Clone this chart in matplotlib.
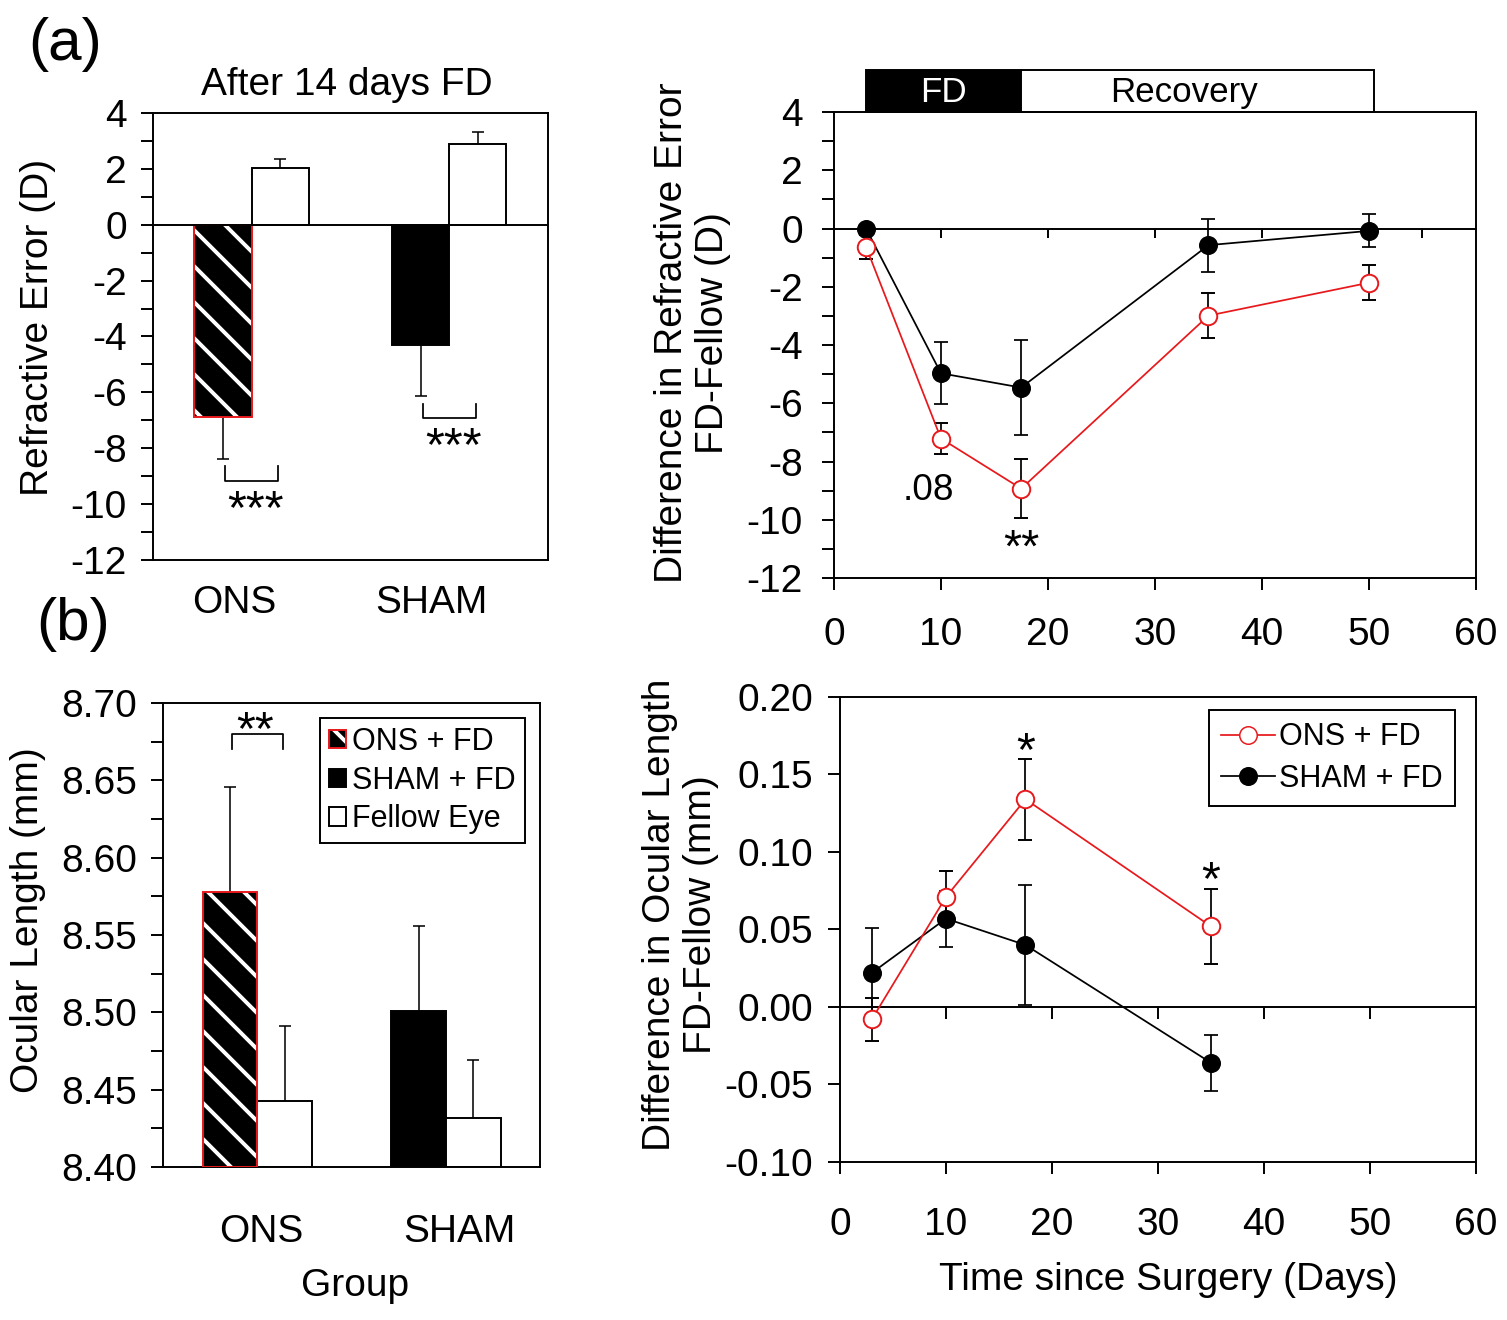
import numpy as np
import matplotlib
matplotlib.use("Agg")
import matplotlib.pyplot as plt
import matplotlib.transforms as mtransforms
from matplotlib.patches import Patch, Rectangle
from matplotlib.lines import Line2D
from matplotlib.ticker import MultipleLocator, FormatStrFormatter

# render at a lower dpi so the hatch stripes come out as dense as in the original
DPI = 108
K = 140 / DPI   # sizes below are written for 140 dpi and rescaled

plt.rcParams['font.family'] = ['Liberation Sans', 'DejaVu Sans']
plt.rcParams['axes.unicode_minus'] = False
plt.rcParams['hatch.color'] = 'white'
plt.rcParams['hatch.linewidth'] = 2.6

RED = '#e8191c'

# ---- data ----
groups = ['ONS', 'SHAM']
# (a) left: refractive error after 14 days FD
re_fd = [-6.88, -4.30]
re_fd_err = [1.50, 1.83]
re_fellow = [2.04, 2.90]
re_fellow_err = [0.30, 0.43]

# (b) left: ocular length
ol_fd = [8.578, 8.501]
ol_fd_err = [0.068, 0.055]
ol_fellow = [8.443, 8.432]
ol_fellow_err = [0.048, 0.037]

# (a) right: refractive error difference over time
days = [3, 10, 17.5, 35, 50]
re_ons = [-0.63, -7.21, -8.93, -2.99, -1.86]
re_ons_err = [0.40, 0.54, 1.02, 0.77, 0.60]
re_sham = [0.0, -4.97, -5.46, -0.57, -0.08]
re_sham_err = [0.10, 1.07, 1.62, 0.91, 0.57]

# (b) right: ocular length difference over time
days_ol = [3, 10, 17.5, 35]
ol_ons = [-0.008, 0.071, 0.134, 0.052]
ol_ons_err = [0.014, 0.017, 0.026, 0.024]
ol_sham = [0.022, 0.057, 0.040, -0.036]
ol_sham_err = [0.029, 0.018, 0.039, 0.018]

phase_names = ['FD', 'Recovery']
phase_bounds = [3, 17.5, 50.5]

fig = plt.figure(figsize=(1507 / DPI, 1320 / DPI), dpi=DPI)


def style(ax):
    for s in ax.spines.values():
        s.set_linewidth(1.0 * K)
    ax.tick_params(which='both', direction='out', length=6 * K, width=1 * K,
                   labelsize=20 * K)


def zero_axis(ax, ypos, ticks, tlen):
    # zero line with downward ticks, like the original sigmaplot style
    sec = ax.secondary_xaxis(ypos)
    sec.set_alignment('bottom')
    sec.set_xticks(ticks)
    sec.tick_params(direction='out', length=tlen * K, width=1 * K, labelbottom=False)
    sec.spines['bottom'].set_linewidth(1.0 * K)
    return sec


def bracket(ax, x0, x1, ytip, ybase):
    ax.plot([x0, x0, x1, x1], [ytip, ybase, ybase, ytip], color='black', lw=0.9 * K)


eb_bar = dict(fmt='none', ecolor='black', elinewidth=0.8 * K, capsize=3.2 * K,
              capthick=0.8 * K, zorder=1)

x = np.arange(1, len(groups) + 1)
w = 0.29

# ---------------- (a) left ----------------
ax1 = fig.add_axes([0.1015, 0.5758, 0.2621, 0.3386])
style(ax1)
ax1.errorbar(x - w / 2, re_fd, yerr=re_fd_err, **eb_bar)
ax1.errorbar(x + w / 2, re_fellow, yerr=re_fellow_err, **eb_bar)
ax1.bar(x[0] - w / 2, re_fd[0], w, color='black', edgecolor='white', hatch='\\',
        linewidth=0, zorder=2)
ax1.bar(x[0] - w / 2, re_fd[0], w, fill=False, edgecolor=RED, linewidth=1 * K, zorder=3)
ax1.bar(x[1] - w / 2, re_fd[1], w, color='black', edgecolor='black', linewidth=1 * K, zorder=2)
ax1.bar(x + w / 2, re_fellow, w, color='white', edgecolor='black', linewidth=1 * K, zorder=2)
ax1.axhline(0, color='black', lw=1 * K, zorder=4)
ax1.set_xlim(0.5, 2.5)
ax1.set_ylim(-12, 4)
ax1.set_yticks(np.arange(-12, 5, 2))
ax1.yaxis.set_minor_locator(MultipleLocator(1))
ax1.set_xticks(x - 0.09, groups)
ax1.tick_params(axis='x', length=0, pad=13 * K)
ax1.tick_params(axis='y', pad=7.5 * K)
ax1.set_title('After 14 days FD', fontsize=20 * K, pad=9 * K, x=0.49)
ax1.set_ylabel('Refractive Error (D)', fontsize=20 * K)
ax1.yaxis.set_label_coords(-0.245, 0.52)
for i in range(len(groups)):
    ytip = re_fd[i] - re_fd_err[i] - 0.27
    ybase = ytip - 0.53
    bracket(ax1, x[i] - w / 2 + 0.01, x[i] + w / 2 - 0.01, ytip, ybase)
    ax1.text(x[i] + 0.02, ybase - 1.5, '***', ha='center', va='baseline', fontsize=25 * K)

# ---------------- (a) right ----------------
ax2 = fig.add_axes([0.5534, 0.5621, 0.4260, 0.3530])
style(ax2)
line_kw = dict(lw=0.9 * K, marker='o', ms=9 * K, ecolor='black', elinewidth=0.9 * K,
               capsize=3.5 * K, capthick=0.9 * K)
ax2.errorbar(days, re_sham, yerr=re_sham_err, color='black', mfc='black', mec='black',
             zorder=3, **line_kw)
ax2.errorbar(days, re_ons, yerr=re_ons_err, color=RED, mfc='white', mec=RED,
             mew=1.0 * K, zorder=4, **line_kw)
ax2.set_xlim(0, 60)
ax2.set_ylim(-12, 4)
ax2.set_xticks(np.arange(0, 61, 10))
ax2.set_yticks(np.arange(-12, 5, 2))
ax2.yaxis.set_minor_locator(MultipleLocator(1))
ax2.tick_params(axis='x', pad=14 * K)
ax2.tick_params(axis='y', pad=10 * K)
zero_axis(ax2, 12 / 16, [10, 20, 30, 40, 50, 55], 4.5)
ax2.set_ylabel('Difference in Refractive Error\nFD-Fellow (D)', fontsize=20 * K)
ax2.yaxis.set_label_coords(-0.160, 0.526)
ax2.text(8.8, -9.0, '.08', ha='center', va='center', fontsize=19 * K)
ax2.text(17.5, -11.45, '**', ha='center', va='baseline', fontsize=24 * K)

trans = mtransforms.blended_transform_factory(ax2.transData, ax2.transAxes)
cols = ['black', 'white']
tcols = ['white', 'black']
text_frac = [0.5, 0.46]
for k, name in enumerate(phase_names):
    x0, x1 = phase_bounds[k], phase_bounds[k + 1]
    ax2.add_patch(Rectangle((x0, 1.0), x1 - x0, 0.09, transform=trans, facecolor=cols[k],
                            edgecolor='black', lw=1 * K, clip_on=False))
    ax2.text(x0 + (x1 - x0) * text_frac[k], 1.042, name, transform=trans, ha='center',
             va='center', color=tcols[k], fontsize=18 * K)

# ---------------- (b) left ----------------
ax3 = fig.add_axes([0.1082, 0.1159, 0.2502, 0.3515])
style(ax3)
ax3.errorbar(x - w / 2, ol_fd, yerr=ol_fd_err, **eb_bar)
ax3.errorbar(x + w / 2, ol_fellow, yerr=ol_fellow_err, **eb_bar)
base = 8.40
ax3.bar(x[0] - w / 2, ol_fd[0] - base, w, bottom=base, color='black', edgecolor='white',
        hatch='\\', linewidth=0, zorder=2)
ax3.bar(x[0] - w / 2, ol_fd[0] - base, w, bottom=base, fill=False, edgecolor=RED,
        linewidth=1 * K, zorder=3)
ax3.bar(x[1] - w / 2, ol_fd[1] - base, w, bottom=base, color='black', edgecolor='black',
        linewidth=1 * K, zorder=2)
ax3.bar(x + w / 2, np.array(ol_fellow) - base, w, bottom=base, color='white',
        edgecolor='black', linewidth=1 * K, zorder=2)
ax3.set_xlim(0.5, 2.5)
ax3.set_ylim(8.40, 8.70)
ax3.set_yticks(np.arange(8.40, 8.701, 0.05))
ax3.yaxis.set_major_formatter(FormatStrFormatter('%.2f'))
ax3.yaxis.set_minor_locator(MultipleLocator(0.025))
ax3.set_xticks(x + np.array([0.02, 0.07]), groups)
ax3.tick_params(axis='x', length=0, pad=24 * K)
ax3.tick_params(axis='y', pad=7.5 * K)
ax3.set_ylabel('Ocular Length (mm)', fontsize=20 * K)
ax3.yaxis.set_label_coords(-0.31, 0.532)
ax3.set_xlabel('Group', fontsize=20 * K)
ax3.xaxis.set_label_coords(0.509, -0.218)
bracket(ax3, x[0] - w / 2 + 0.01, x[0] + w / 2 - 0.01, 8.6706, 8.680)
ax3.text(x[0] - 0.01, 8.6737, '**', ha='center', va='baseline', fontsize=25 * K)

h_ons = (Patch(facecolor='black', edgecolor='white', hatch='\\', lw=0),
         Patch(fill=False, edgecolor=RED, lw=1 * K))
h_sham = Patch(facecolor='black', edgecolor='black', lw=1 * K)
h_fel = Patch(facecolor='white', edgecolor='black', lw=1 * K)
leg3 = ax3.legend([h_ons, h_sham, h_fel], ['ONS + FD', 'SHAM + FD', 'Fellow Eye'],
                  loc='upper right', bbox_to_anchor=(0.96, 0.968), fontsize=15.7 * K,
                  frameon=True, fancybox=False, edgecolor='black', framealpha=1,
                  handlelength=0.55, handleheight=0.55, handletextpad=0.2,
                  labelspacing=0.28, borderpad=0.3, borderaxespad=0)
leg3.get_frame().set_linewidth(1.0 * K)

# ---------------- (b) right ----------------
ax4 = fig.add_axes([0.5574, 0.1197, 0.4220, 0.3523])
style(ax4)
ax4.errorbar(days_ol, ol_sham, yerr=ol_sham_err, color='black', mfc='black', mec='black',
             zorder=3, **line_kw)
ax4.errorbar(days_ol, ol_ons, yerr=ol_ons_err, color=RED, mfc='white', mec=RED,
             mew=1.0 * K, zorder=4, **line_kw)
ax4.set_xlim(0, 60)
ax4.set_ylim(-0.10, 0.20)
ax4.set_xticks(np.arange(0, 61, 10))
ax4.set_yticks(np.arange(-0.10, 0.201, 0.05))
ax4.yaxis.set_major_formatter(FormatStrFormatter('%.2f'))
ax4.tick_params(axis='x', pad=17 * K)
ax4.tick_params(axis='y', pad=8 * K)
zero_axis(ax4, 0.10 / 0.30, [10, 20, 30, 40, 50], 6)
ax4.set_ylabel('Difference in Ocular Length\nFD-Fellow (mm)', fontsize=20 * K)
ax4.yaxis.set_label_coords(-0.190, 0.532)
ax4.set_xlabel('Time since Surgery (Days)', fontsize=20 * K)
ax4.xaxis.set_label_coords(0.516, -0.215)
ax4.text(17.5, 0.156, '*', ha='center', va='baseline', fontsize=25 * K)
ax4.text(35, 0.073, '*', ha='center', va='baseline', fontsize=25 * K)

h1 = Line2D([], [], color=RED, lw=0.9 * K, marker='o', ms=9 * K, mfc='white', mec=RED)
h2 = Line2D([], [], color='black', lw=0.9 * K, marker='o', ms=9 * K, mfc='black',
            mec='black')
leg4 = ax4.legend([h1, h2], ['ONS + FD', 'SHAM + FD'], loc='upper right',
                  bbox_to_anchor=(0.967, 0.972), fontsize=15.7 * K, frameon=True,
                  fancybox=False, edgecolor='black', framealpha=1, handlelength=1.75,
                  handletextpad=0.15, labelspacing=0.38, borderpad=0.4, borderaxespad=0)
leg4.get_frame().set_linewidth(1.0 * K)

fig.text(65 / 1507, 1 - 45 / 1320, '(a)', fontsize=31 * K, ha='center', va='center')
fig.text(73 / 1507, 1 - 625 / 1320, '(b)', fontsize=31 * K, ha='center', va='center')

fig.savefig('out.png', dpi=DPI)
